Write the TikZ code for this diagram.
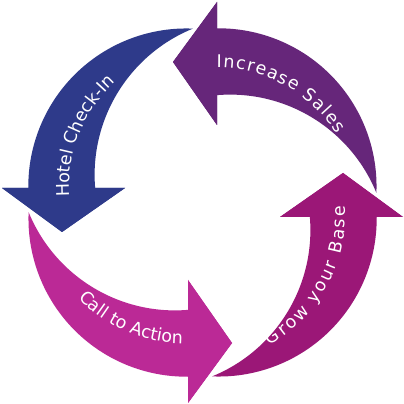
\documentclass[tikz,border=0pt]{standalone}
\usepackage{fontspec}
\newfontfamily\arrowfont{DejaVu Sans}
\usetikzlibrary{decorations.text}
\definecolor{cblue}{RGB}{46,58,138}
\definecolor{cpurple}{RGB}{102,38,122}
\definecolor{cgrow}{RGB}{155,23,119}
\definecolor{ccall}{RGB}{187,41,150}
\newcommand\arrowshape[1]{\fill[#1] (14.5,174.3) -- (14.5,200.5) -- (-29.5,140.5) -- (14.5,77.5) -- (14.5,107.35)
  arc[start angle=94.76, end angle=22.2, radius=158]
  arc[start angle=-2.4, end angle=90.54, radius=158] -- cycle;}
\newcommand\arrowtip[1]{\fill[#1] (14.5,200.5) -- (-29.5,140.5) -- (14.5,77.5) -- cycle;}
\tikzset{
  arrowlabel/.style={decorate, decoration={text along path, text={|\arrowfont\fontsize{17.5}{20}\selectfont|#1},
      text align={fit to path}, text color=white}}
}
\begin{document}
\begin{tikzpicture}[x=1pt,y=1pt]
\useasboundingbox (0,0) rectangle (404,404);
\fill[white] (0,0) rectangle (404,404);
\begin{scope}[shift={(202.5,201.5)}]
  \begin{scope}[rotate=0]\arrowshape{cpurple}\end{scope}
  \begin{scope}[rotate=90]\arrowshape{cblue}\end{scope}
  \begin{scope}[rotate=180]\arrowshape{ccall}\end{scope}
  \begin{scope}[rotate=270]\arrowshape{cgrow}\end{scope}
  \begin{scope}[rotate=0]\arrowtip{cpurple}\end{scope}
  \begin{scope}[rotate=90]\arrowtip{cblue}\end{scope}
  \begin{scope}[rotate=180]\arrowtip{ccall}\end{scope}
  \begin{scope}[rotate=270]\arrowtip{cgrow}\end{scope}
  \path[arrowlabel={Increase Sales}] plot[samples=40, domain=84:27, variable=\a]
    ({(135.5+0.27*(84-\a))*cos(\a)}, {(135.5+0.27*(84-\a))*sin(\a)});
  \path[arrowlabel={Hotel Check-In}] plot[samples=40, domain=177.6:126, variable=\a]
    ({(133+0.3*(177.6-\a))*cos(\a)}, {(133+0.3*(177.6-\a))*sin(\a)});
  \path[arrowlabel={Call to Action}] plot[samples=40, domain=217.6:262, variable=\a]
    ({(157-0.33*(\a-217.6))*cos(\a)}, {(157-0.33*(\a-217.6))*sin(\a)});
  \path[arrowlabel={Grow your Base}] plot[samples=40, domain=-64.7:-1.5, variable=\a]
    ({(157.7-0.24*(\a+64.7))*cos(\a)}, {(157.7-0.24*(\a+64.7))*sin(\a)});
\end{scope}
\end{tikzpicture}
\end{document}
